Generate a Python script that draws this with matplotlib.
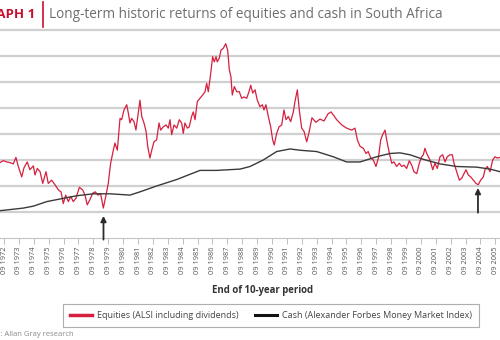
import matplotlib.pyplot as plt
from matplotlib.lines import Line2D

# ---- data (10-year annualised returns, %, by end of period) ----
eq_year = [1972.40, 1972.62, 1972.85, 1973.07, 1973.29, 1973.47, 1973.63, 1973.86, 1974.01, 1974.23,
           1974.41, 1974.64, 1974.75, 1974.91, 1975.09, 1975.27, 1975.49, 1975.64, 1975.87, 1976.09,
           1976.32, 1976.50, 1976.65, 1976.81, 1976.99, 1977.15, 1977.32, 1977.50, 1977.73, 1977.95,
           1978.11, 1978.26, 1978.44, 1978.63, 1978.80, 1978.98, 1979.16, 1979.34, 1979.52, 1979.67,
           1979.83, 1980.01, 1980.12, 1980.28, 1980.46, 1980.57, 1980.73, 1980.91, 1981.02, 1981.13,
           1981.24, 1981.40, 1981.53, 1981.69, 1981.80, 1981.92, 1982.07, 1982.21, 1982.32, 1982.47,
           1982.59, 1982.74, 1982.92, 1983.08, 1983.19, 1983.37, 1983.55, 1983.70, 1983.82, 1983.93,
           1984.09, 1984.27, 1984.44, 1984.60, 1984.71, 1984.82, 1984.98, 1985.11, 1985.27, 1985.38,
           1985.50, 1985.65, 1985.83, 1986.01, 1986.17, 1986.28, 1986.39, 1986.55, 1986.68, 1986.79,
           1986.91, 1986.99, 1987.13, 1987.24, 1987.40, 1987.56, 1987.69, 1987.80, 1987.91, 1988.00,
           1988.14, 1988.30, 1988.47, 1988.63, 1988.79, 1988.97, 1989.12, 1989.24, 1989.37, 1989.53,
           1989.68, 1989.86, 1990.02, 1990.13, 1990.26, 1990.42, 1990.58, 1990.71, 1990.82, 1990.98,
           1991.14, 1991.32, 1991.47, 1991.61, 1991.76, 1991.92, 1992.10, 1992.21, 1992.37, 1992.50,
           1992.66, 1992.82, 1993.00, 1993.17, 1993.35, 1993.62, 1993.89, 1994.16, 1994.43, 1994.63,
           1994.83, 1995.01, 1995.35, 1995.68, 1996.02, 1996.24, 1996.40, 1996.58, 1996.80, 1996.98,
           1997.13, 1997.30, 1997.47, 1997.65, 1997.81, 1997.97, 1998.10, 1998.26, 1998.37, 1998.55,
           1998.71, 1998.86, 1999.04, 1999.22, 1999.38, 1999.53, 1999.71, 1999.89, 2000.05, 2000.20,
           2000.39, 2000.56, 2000.72, 2000.83, 2000.94, 2001.06, 2001.28, 2001.46, 2001.61, 2001.77,
           2001.95, 2002.13, 2002.29, 2002.44, 2002.62, 2002.78, 2002.89, 2003.07, 2003.25, 2003.41,
           2003.56, 2003.70, 2003.85, 2004.01, 2004.19, 2004.37, 2004.52, 2004.68, 2004.86, 2004.97,
           2005.13, 2005.31, 2005.49, 2005.64, 2005.80, 2005.98]
eq_value = [11.6, 11.9, 11.7, 11.6, 11.4, 12.4, 11.0, 9.4, 10.8, 11.7,
            10.5, 11.1, 9.7, 10.7, 10.2, 8.4, 10.2, 8.4, 8.9, 8.2,
            7.4, 7.1, 5.3, 6.6, 5.6, 6.4, 5.6, 6.1, 7.8, 7.4,
            6.6, 5.1, 5.9, 6.9, 7.1, 6.6, 6.8, 4.6, 6.6, 8.4,
            11.5, 13.5, 14.6, 13.5, 18.4, 18.2, 19.7, 20.5, 19.2, 17.7,
            18.4, 17.9, 16.6, 19.4, 21.2, 18.7, 17.7, 16.4, 14.1, 12.3,
            13.5, 14.8, 15.1, 17.7, 16.6, 17.1, 17.4, 16.9, 18.2, 15.9,
            17.4, 16.9, 18.2, 17.7, 16.1, 17.7, 16.9, 17.1, 18.7, 19.4,
            18.2, 21.0, 21.5, 22.0, 22.5, 23.8, 22.5, 25.3, 27.9, 27.1,
            27.9, 27.1, 27.7, 28.9, 29.2, 29.9, 28.9, 25.9, 24.8, 22.0,
            23.3, 22.5, 22.5, 21.5, 21.7, 21.5, 22.5, 23.5, 22.3, 22.8,
            21.2, 20.2, 20.5, 19.7, 20.5, 18.7, 17.1, 15.1, 14.3, 16.1,
            17.1, 17.4, 19.7, 18.2, 18.7, 17.9, 19.4, 21.0, 22.8, 19.7,
            16.9, 16.4, 14.8, 16.4, 18.5, 17.8, 18.3, 18.0, 19.1, 19.4,
            18.8, 18.2, 17.4, 16.9, 16.6, 16.9, 15.1, 14.1, 13.8, 13.0,
            13.3, 12.3, 12.0, 11.0, 12.3, 15.1, 15.9, 16.6, 15.1, 13.0,
            11.5, 11.7, 11.0, 11.5, 11.0, 11.2, 10.7, 11.9, 11.2, 10.2,
            9.9, 11.5, 12.5, 12.8, 13.8, 13.0, 12.0, 10.5, 11.5, 10.7,
            12.5, 12.8, 11.7, 12.5, 12.8, 12.8, 11.5, 10.2, 8.9, 9.2,
            9.9, 10.5, 9.7, 9.4, 8.9, 8.4, 8.2, 8.9, 9.4, 10.5,
            11.0, 10.2, 12.0, 12.5, 12.3, 12.4]

cash_year = [1972.40, 1973.96, 1974.64, 1975.54, 1976.65, 1977.55, 1978.67, 1979.79, 1981.13, 1981.80,
             1982.92, 1984.27, 1985.83, 1986.95, 1988.52, 1989.19, 1990.08, 1990.98, 1991.88, 1992.55,
             1993.67, 1994.78, 1995.68, 1996.58, 1997.70, 1998.59, 1999.26, 1999.94, 2000.83, 2001.95,
             2003.07, 2004.42, 2005.31, 2005.98]
cash_value = [4.2, 4.6, 4.9, 5.6, 6.1, 6.5, 6.8, 6.8, 6.6, 7.1,
              8.0, 9.0, 10.4, 10.4, 10.6, 11.0, 12.0, 13.3, 13.7, 13.5,
              13.3, 12.5, 11.7, 11.7, 12.5, 13.0, 13.1, 12.8, 12.1, 11.4,
              11.0, 10.9, 10.6, 10.2]

tick_years = list(range(1972, 2006))
tick_labels = ["09 %d" % y for y in tick_years]
grid_levels = [4, 8, 12, 16, 20, 24, 28, 32]
arrow_years = [1979.35, 2004.50]
arrow_tips = [3.4, 7.7]
arrow_tails = [-0.25, 3.9]

RED = "#d5203f"
DARK = "#3a3a3a"

plt.rcParams['font.family'] = ['Open Sans', 'DejaVu Sans']

fig = plt.figure(figsize=(5, 3.4), dpi=100)
ax = fig.add_axes([0, 102 / 340, 1, 214.5 / 340])

ax.set_xlim(1972.40, 2005.98)
ax.set_ylim(0, 33)

# grid
ax.set_yticks(grid_levels)
ax.yaxis.grid(True, color="#d0d0d0", lw=1.6)
ax.tick_params(axis="y", left=False, labelleft=False)
ax.set_axisbelow(True)
for s in ["top", "left", "right"]:
    ax.spines[s].set_visible(False)
ax.spines["bottom"].set_color("#c4c4c4")
ax.spines["bottom"].set_linewidth(0.8)

# x ticks
ax.set_xticks([y + 0.67 for y in tick_years])
ax.set_xticklabels(tick_labels, rotation=90, fontsize=5.4, color="#555555")
ax.tick_params(axis="x", length=4.3, width=0.7, color="#bdbdbd", pad=2)

# series
ax.plot(eq_year, eq_value, color=RED, lw=0.9, label="Equities (ALSI including dividends)")
ax.plot(cash_year, cash_value, color=DARK, lw=1.0, label="Cash (Alexander Forbes Money Market Index)")

# arrows
for xa, tip, tail in zip(arrow_years, arrow_tips, arrow_tails):
    ax.annotate("", xy=(xa, tip), xytext=(xa, tail),
                arrowprops=dict(arrowstyle="-|>", color="#2b2b2b", lw=1.3,
                                mutation_scale=8, shrinkA=0, shrinkB=0),
                annotation_clip=False)

# title
fig.text(35 / 500, 1 - 15 / 340, "GRAPH 1", color="#c8102e", weight="bold",
         fontsize=9.5, ha="right", va="center")
fig.add_artist(Line2D([43 / 500, 43 / 500], [1 - 2 / 340, 1 - 27 / 340], color="#c8102e", lw=1.2))
fig.text(49 / 500, 1 - 15 / 340, "Long-term historic returns of equities and cash in South Africa",
         color="#6d6e71", fontsize=9.8, ha="left", va="center")

# axis title
fig.text(263 / 500, 1 - 291 / 340, "End of 10-year period", weight="bold", fontsize=6.9,
         ha="center", va="center", color="#333333")

# legend
handles = [Line2D([], [], color=RED, lw=2.5), Line2D([], [], color="#111111", lw=2.2)]
leg = fig.legend(handles, ["Equities (ALSI including dividends)",
                           "Cash (Alexander Forbes Money Market Index)"],
                 loc="center", bbox_to_anchor=(271 / 500, 1 - 315.5 / 340), ncol=2,
                 fontsize=6.5, frameon=True, fancybox=False, edgecolor="#9a9a9a",
                 handlelength=2.4, columnspacing=1.9, borderpad=0.75, handletextpad=0.55)
leg.get_frame().set_linewidth(0.8)
for t in leg.get_texts():
    t.set_color("#444444")

# source
fig.text(-24 / 500, 1 - 335 / 340, "Source: Allan Gray research", fontsize=5.5,
         color="#8a8a8a", ha="left", va="center")

fig.savefig("out.png", dpi=100)
